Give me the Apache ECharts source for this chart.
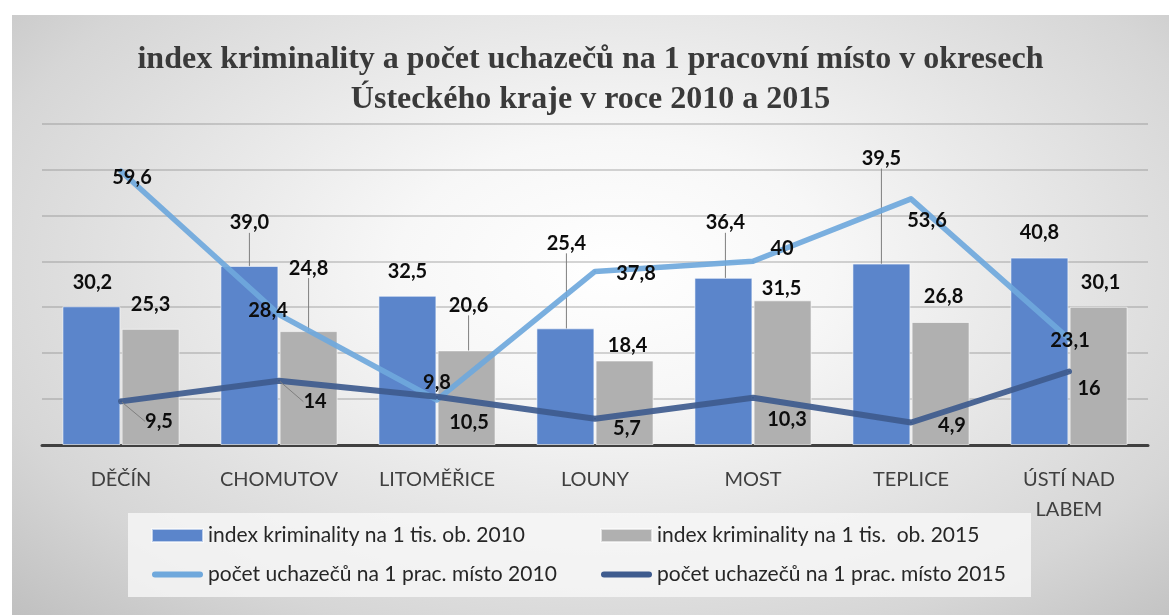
<!DOCTYPE html>
<html>
<head>
<meta charset="utf-8">
<script src="https://cdn.jsdelivr.net/npm/echarts@6/dist/echarts.min.js"></script>
<style>
  html, body { margin: 0; padding: 0; background: #ffffff; }
  #chart {
    position: absolute; left: 12px; top: 15px; width: 1157px; height: 600px;
    background: radial-gradient(ellipse 75% 85% at 52% 42%, #ffffff 0%, #f7f7f7 25%, #d6d6d6 75%, #bdbdbd 100%);
  }
</style>
</head>
<body>
<div id="chart"></div>
<script>
// Districts of the Ústí region
const categories = ['DĚČÍN', 'CHOMUTOV', 'LITOMĚŘICE', 'LOUNY', 'MOST', 'TEPLICE', 'ÚSTÍ NAD\nLABEM'];

// Crime index per 1,000 inhabitants
const crime2010 = [30.2, 39.0, 32.5, 25.4, 36.4, 39.5, 40.8];
const crime2015 = [25.3, 24.8, 20.6, 18.4, 31.5, 26.8, 30.1];

// Job applicants per one vacancy
const applicants2010 = [59.6, 28.4, 9.8, 37.8, 40, 53.6, 23.1];
const applicants2015 = [9.5, 14, 10.5, 5.7, 10.3, 4.9, 16];

const seriesNames = [
  'index kriminality na 1 tis. ob. 2010',
  'index kriminality na 1 tis.  ob. 2015',
  'počet uchazečů na 1 prac. místo 2010',
  'počet uchazečů na 1 prac. místo 2015'
];

// Hand-placed label offsets [dx, dy] and which labels carry a leader line
const labelShift = [
  [[1, -9], [0, -28], [0, -9], [1, -70], [2, -40], [0, -90], [0, -10]],
  [[0, -9], [0, -48], [2, -30], [3, 0], [-1, 3], [3, -10], [2, -9]],
  [[11, 6], [-11, -4], [0, -17], [41, 2], [29, -13], [16, 22], [1, 2]],
  [[38, 20], [36, 21], [32, 26], [32, 10], [34, 22], [41, 3], [20, 17]]
];
const leader = [
  [false, true, false, true, true, true, false],
  [false, true, true, false, false, false, false],
  [false, false, false, false, false, false, false],
  [true, true, false, false, false, false, false]
];

const fmtBar = v => v.toFixed(1).replace('.', ',');
const fmtLine = v => String(v).replace('.', ',');

function items(values, s) {
  return values.map((v, i) => ({
    value: v,
    labelLine: { show: leader[s][i], lineStyle: { color: '#7f7f7f', width: 1 } }
  }));
}
const shiftFor = s => params => {
  const d = labelShift[s][params.dataIndex];
  return { dx: d[0], dy: d[1] };
};

const labelText = {
  fontFamily: 'Lato', fontWeight: 'bold', fontSize: 20, color: '#0d0d0d'
};
const legendText = { fontFamily: 'Lato', fontSize: 21, color: '#262626' };
const lineIcon = 'path://M3,0H48A3,3 0 0 1 48,6H3A3,3 0 0 1 3,0Z';

const chart = echarts.init(document.getElementById('chart'), null, { renderer: 'canvas' });
chart.setOption({
  animation: false,
  title: {
    text: 'index kriminality a počet uchazečů na 1 pracovní místo v okresech\nÚsteckého kraje v roce 2010 a 2015',
    left: 'center',
    top: 20,
    textStyle: {
      fontFamily: 'Liberation Serif', fontSize: 32, fontWeight: 'bold',
      color: '#3a3a3a', lineHeight: 40
    }
  },
  graphic: [{
    type: 'rect',
    shape: { x: 116, y: 498, width: 903, height: 84 },
    style: { fill: 'rgba(248,248,248,0.8)' },
    z: -1
  }],
  legend: [
    {
      orient: 'vertical', left: 134, top: 505, itemGap: 18,
      itemWidth: 51, itemHeight: 13, textStyle: legendText,
      data: [{ name: seriesNames[0], icon: 'rect' }, { name: seriesNames[2], icon: lineIcon }]
    },
    {
      orient: 'vertical', left: 583, top: 505, itemGap: 18,
      itemWidth: 51, itemHeight: 13, textStyle: legendText,
      data: [{ name: seriesNames[1], icon: 'rect' }, { name: seriesNames[3], icon: lineIcon }]
    }
  ],
  grid: { left: 30, right: 21, top: 108.5, bottom: 170, containLabel: false },
  xAxis: {
    type: 'category',
    data: categories,
    axisLine: { lineStyle: { color: '#404040', width: 3 } },
    axisTick: { show: false },
    axisLabel: {
      margin: 20, fontFamily: 'Lato', fontSize: 20, color: '#404040',
      lineHeight: 30, interval: 0
    }
  },
  yAxis: {
    type: 'value', min: 0, max: 70, interval: 10,
    axisLabel: { show: false },
    axisLine: { show: false },
    axisTick: { show: false },
    splitLine: { lineStyle: { color: 'rgba(130,130,130,0.45)', width: 1.5 } }
  },
  series: [
    {
      name: seriesNames[0], type: 'bar', data: items(crime2010, 0),
      barWidth: 58, barGap: '2%',
      itemStyle: { color: '#5B85CB', borderColor: 'rgba(255,255,255,0.6)', borderWidth: 1 },
      label: { show: true, position: 'top', distance: 5, formatter: p => fmtBar(p.value), ...labelText },
      labelLayout: shiftFor(0)
    },
    {
      name: seriesNames[1], type: 'bar', data: items(crime2015, 1),
      barWidth: 58, barGap: '2%',
      itemStyle: { color: '#B0B0B0', borderColor: 'rgba(255,255,255,0.6)', borderWidth: 1 },
      label: { show: true, position: 'top', distance: 5, formatter: p => fmtBar(p.value), ...labelText },
      labelLayout: shiftFor(1)
    },
    {
      name: seriesNames[2], type: 'line', data: items(applicants2010, 2),
      symbol: 'circle', symbolSize: 2, showSymbol: true,
      itemStyle: { color: '#6FA8DC' },
      lineStyle: { color: '#6FA8DC', width: 5.5, opacity: 0.92, cap: 'round', join: 'round' },
      label: { show: true, position: 'inside', formatter: p => fmtLine(p.value), ...labelText },
      labelLayout: shiftFor(2),
      z: 3
    },
    {
      name: seriesNames[3], type: 'line', data: items(applicants2015, 3),
      symbol: 'circle', symbolSize: 2, showSymbol: true,
      itemStyle: { color: '#3E5B8E' },
      lineStyle: { color: '#3E5B8E', width: 6, opacity: 0.92, cap: 'round', join: 'round' },
      label: { show: true, position: 'inside', formatter: p => fmtLine(p.value), ...labelText },
      labelLayout: shiftFor(3),
      z: 3
    }
  ]
});
</script>
</body>
</html>
